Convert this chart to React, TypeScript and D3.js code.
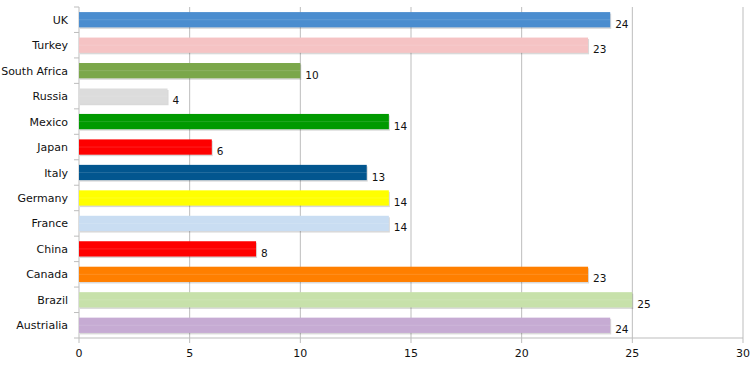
import React from "react";
import * as d3 from "d3";

const countries = ["UK", "Turkey", "South Africa", "Russia", "Mexico", "Japan", "Italy", "Germany", "France", "China", "Canada", "Brazil", "Austrialia"];
const values = [24, 23, 10, 4, 14, 6, 13, 14, 14, 8, 23, 25, 24];
const colors = ["#4b8dcf", "#f5c3c4", "#7ba74a", "#dcdcdc", "#009a00", "#fe0000", "#02568f", "#ffff00", "#c9ddf2", "#fe0000", "#ff7f00", "#c7e1aa", "#c6abd3"];
const xTicks = [0, 5, 10, 15, 20, 25, 30];

const width = 754;
const height = 365;
const margin = { top: 7, right: 11, bottom: 27, left: 79 };

export default function App() {
  const x = d3.scaleLinear().domain([0, 30]).range([margin.left, width - margin.right]);
  const y = d3.scaleBand<string>().domain(countries).range([margin.top, height - margin.bottom]).paddingInner(0.4).paddingOuter(0.2);
  const step = y.step();
  const bottom = height - margin.bottom;
  const font = "'DejaVu Sans', Verdana, sans-serif";

  return (
    <div style={{ position: "fixed", left: 0, top: 0 }}>
      <svg width={width} height={height} style={{ background: "#fff", display: "block" }}>
        {xTicks.filter(t => t > 0).map(t => (
          <line key={"g" + t} x1={x(t)} x2={x(t)} y1={margin.top} y2={bottom} stroke="#bdbdbd" strokeWidth={1} />
        ))}
        <line x1={x(0)} x2={x(0)} y1={margin.top} y2={bottom} stroke="#bdbdbd" />
        <line x1={x(0)} x2={x(30)} y1={bottom} y2={bottom} stroke="#bdbdbd" />
        {xTicks.map(t => (
          <g key={"t" + t}>
            <line x1={x(t)} x2={x(t)} y1={bottom} y2={bottom + 5} stroke="#bdbdbd" />
            <text x={x(t)} y={bottom + 19} textAnchor="middle" fontFamily={font} fontSize={11} fill="#111">{t}</text>
          </g>
        ))}
        {d3.range(countries.length + 1).map(i => (
          <line key={"yt" + i} x1={x(0) - 5} x2={x(0)} y1={margin.top + i * step} y2={margin.top + i * step} stroke="#bdbdbd" />
        ))}
        {countries.map((c, i) => {
          const y0 = y(c)!;
          const bw = y.bandwidth();
          const w = x(values[i]) - x(0);
          return (
            <g key={c}>
              <rect x={x(0) + 1} y={y0 + 1.5} width={w} height={bw} fill="#000" opacity={0.15} />
              <rect x={x(0)} y={y0} width={w} height={bw} fill={colors[i]} />
              <line x1={x(0)} x2={x(0) + w} y1={y0 + bw / 2} y2={y0 + bw / 2} stroke="#fff" opacity={0.12} />
              <text x={x(0) - 11} y={y0 + bw / 2 + 4} textAnchor="end" fontFamily={font} fontSize={11} fill="#111">{c}</text>
              <text x={x(values[i]) + 5} y={y0 + bw / 2 + 8} fontFamily={font} fontSize={10.5} fill="#111">{values[i]}</text>
            </g>
          );
        })}
      </svg>
    </div>
  );
}
